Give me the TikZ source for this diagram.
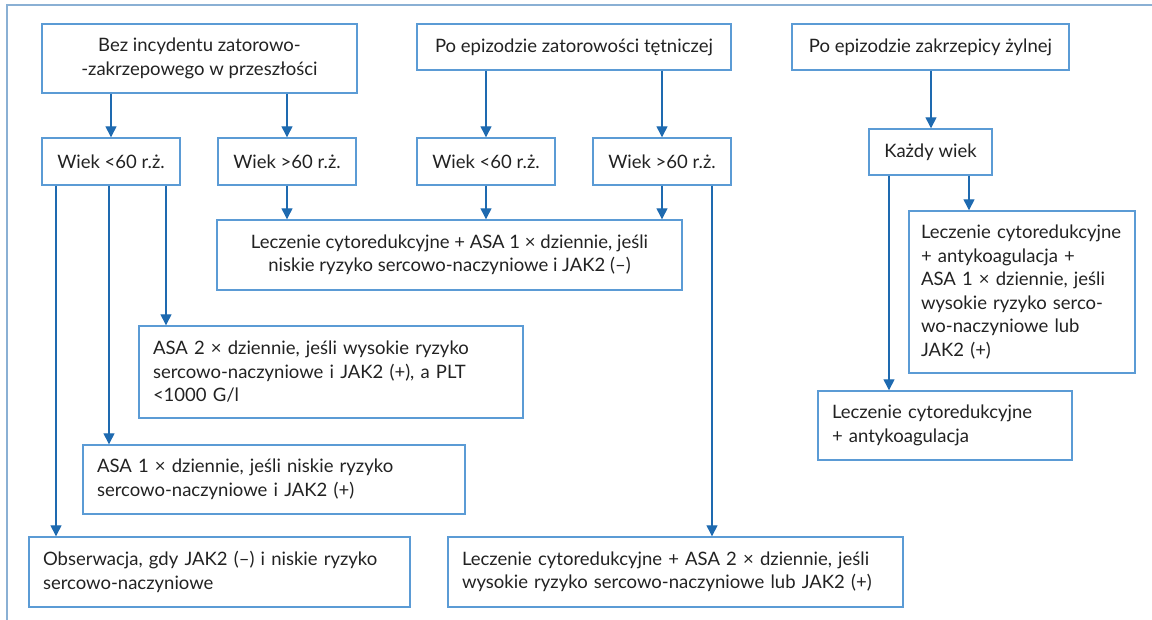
\documentclass[tikz,border=0pt]{standalone}
\usepackage{fontspec}
\setmainfont{Lato}
\usetikzlibrary{arrows.meta}
\definecolor{boxc}{HTML}{5B9BD5}
\definecolor{arrc}{HTML}{1E6AB0}
\definecolor{txtc}{HTML}{222222}
\definecolor{framec}{HTML}{8AB0D4}
\tikzset{
  box/.style={draw=boxc, line width=1.4pt, inner ysep=0pt, text=txtc,
    font=\fontsize{18.5}{23.5}\selectfont, anchor=center},
  cbox/.style={box, align=center, inner xsep=0pt},
  lbox/.style={box, align=left, inner xsep=14pt},
  arr/.style={draw=arrc, line width=1.4pt, -{Triangle[length=11pt,width=11pt]}},
}
\begin{document}
\begin{tikzpicture}[x=1pt,y=1pt]
\useasboundingbox (0,0) rectangle (1152,620);
\draw[framec, line width=1.8pt] (7,0) -- (7,615) -- (1152,615);

\node[cbox, minimum width=315pt, minimum height=69pt] (A) at (199.5,561.5) {Bez incydentu zatorowo-\\-zakrzepowego w przeszłości};
\node[cbox, minimum width=314pt, minimum height=46pt] (B) at (574,573) {Po epizodzie zatorowości tętniczej};
\node[cbox, minimum width=277pt, minimum height=46pt] (C) at (930.5,573) {Po epizodzie zakrzepicy żylnej};

\node[cbox, minimum width=138pt, minimum height=47pt] (D) at (111,458.5) {Wiek <60 r.ż.};
\node[cbox, minimum width=138pt, minimum height=47pt] (E) at (287,458.5) {Wiek >60 r.ż.};
\node[cbox, minimum width=138pt, minimum height=47pt] (F) at (486,458.5) {Wiek <60 r.ż.};
\node[cbox, minimum width=138pt, minimum height=47pt] (G) at (662,458.5) {Wiek >60 r.ż.};
\node[cbox, minimum width=123pt, minimum height=46pt] (H) at (930.5,468) {Każdy wiek};

\node[cbox, minimum width=465pt, minimum height=70pt] (I) at (449.5,365) {Leczenie cytoredukcyjne + ASA 1 × dziennie, jeśli\\niskie ryzyko sercowo-naczyniowe i JAK2 (–)};
\node[lbox, text width=356pt, minimum height=92pt] (J) at (331,248) {ASA 2 × dziennie, jeśli wysokie ryzyko\\sercowo-naczyniowe i JAK2 (+), a PLT\\<1000 G/l};
\node[lbox, text width=354pt, minimum height=69pt] (K) at (274,140.5) {ASA 1 × dziennie, jeśli niskie ryzyko\\sercowo-naczyniowe i JAK2 (+)};
\node[lbox, text width=353pt, minimum height=70pt] (L) at (219.5,48) {Obserwacja, gdy JAK2 (–) i niskie ryzyko\\sercowo-naczyniowe};
\node[lbox, text width=427pt, minimum height=70pt] (M) at (675.5,48) {Leczenie cytoredukcyjne + ASA 2 × dziennie, jeśli\\wysokie ryzyko sercowo-naczyniowe lub JAK2 (+)};
\node[lbox, inner xsep=12pt, text width=202pt, minimum height=162pt] (N) at (1022,328) {Leczenie cytoredukcyjne\\+ antykoagulacja +\\ASA 1 × dziennie, jeśli\\wysokie ryzyko serco-\\wo-naczyniowe lub\\JAK2 (+)};
\node[lbox, text width=226pt, minimum height=69pt] (O) at (945,194.5) {Leczenie cytoredukcyjne\\+ antykoagulacja};

\draw[arr] (111,0 |- A.south) -- (111,0 |- D.north);
\draw[arr] (287,0 |- A.south) -- (287,0 |- E.north);
\draw[arr] (486,0 |- B.south) -- (486,0 |- F.north);
\draw[arr] (662,0 |- B.south) -- (662,0 |- G.north);
\draw[arr] (931,0 |- C.south) -- (931,0 |- H.north);
\draw[arr] (56,0 |- D.south) -- (56,0 |- L.north);
\draw[arr] (109,0 |- D.south) -- (109,0 |- K.north);
\draw[arr] (166,0 |- D.south) -- (166,0 |- J.north);
\draw[arr] (287,0 |- E.south) -- (287,0 |- I.north);
\draw[arr] (486,0 |- F.south) -- (486,0 |- I.north);
\draw[arr] (662,0 |- G.south) -- (662,0 |- I.north);
\draw[arr] (712,0 |- G.south) -- (712,0 |- M.north);
\draw[arr] (889,0 |- H.south) -- (889,0 |- O.north);
\draw[arr] (969,0 |- H.south) -- (969,0 |- N.north);
\end{tikzpicture}
\end{document}
